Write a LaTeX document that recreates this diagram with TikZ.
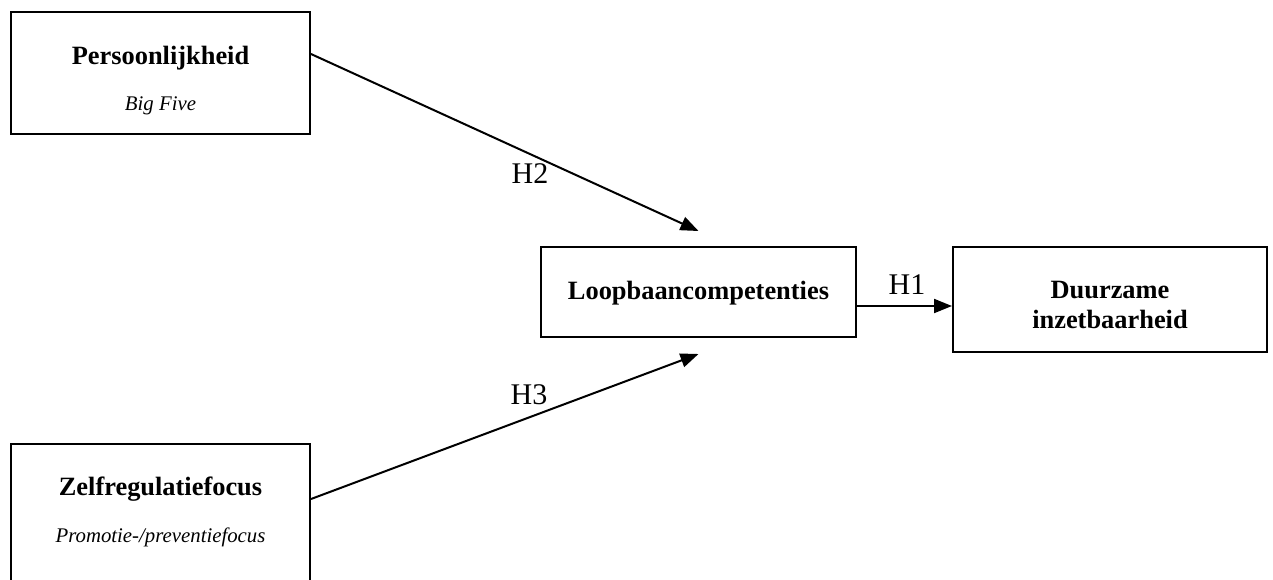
\documentclass[tikz,border=0pt]{standalone}
\usepackage{fontspec}
\setmainfont{Liberation Serif}
\usetikzlibrary{arrows.meta}
\tikzset{
    > = {Triangle[length=9pt, width=7pt]},
    box/.style = {draw, line width=1pt, rectangle, inner sep=0pt},
    title/.style = {anchor=base, inner sep=0pt, font=\fontsize{13.2}{15}\selectfont\bfseries},
    sub/.style = {anchor=base, inner sep=0pt, font=\fontsize{10.4}{12}\selectfont\itshape},
    hyp/.style = {anchor=base, inner sep=0pt, font=\fontsize{15}{17}\selectfont},
    link/.style = {->, line width=1pt}
}

\begin{document}
\begin{tikzpicture}[x=0.5pt, y=-0.5pt]
    \useasboundingbox (0, 0) rectangle (1273, 579);

    \node[box, minimum width=149.5pt, minimum height=61pt] (pers) at (160.5, 73) {};
    \node[box, minimum width=149.5pt, minimum height=78pt] (zelf) at (160.5, 522) {};
    \node[box, minimum width=157.5pt, minimum height=45pt] (loop) at (698.5, 292) {};
    \node[box, minimum width=157pt, minimum height=52.5pt] (duur) at (1110, 299.5) {};

    \node[title] (persT) at (160.5, 64) {Persoonlijkheid};
    \node[sub] (persS) at (160.5, 110) {Big Five};
    \node[title] (zelfT) at (160.5, 495) {Zelfregulatiefocus};
    \node[sub] (zelfS) at (160.5, 542) {Promotie-/preventiefocus};
    \node[title] (loopT) at (698.5, 299) {Loopbaancompetenties};
    \node[title] (duurT) at (1110, 298) {Duurzame};
    \node[title] (duurB) at (1110, 328) {inzetbaarheid};

    \draw[link] ([yshift=9.5pt]pers.east) -- ([yshift=7.5pt]loop.north);
    \draw[link] ([yshift=11.5pt]zelf.east) -- ([yshift=-8pt]loop.south);
    \draw[link] ([yshift=-7pt]loop.east) -- ([yshift=-7pt]loop.east -| duur.west);

    \node[hyp] (h2) at (530, 183) {H2};
    \node[hyp] (h3) at (529, 404) {H3};
    \node[hyp] (h1) at (907, 294) {H1};
\end{tikzpicture}
\end{document}
